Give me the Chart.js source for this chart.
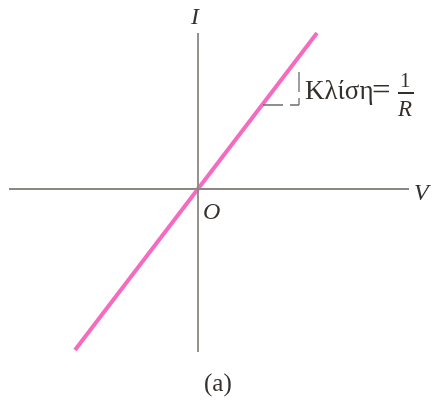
<!DOCTYPE html>
<html>
<head>
<meta charset="utf-8">
<script src="https://cdn.jsdelivr.net/npm/chart.js@4"></script>
<style>
  body { margin: 0; background: #fff; }
  #wrap { position: relative; width: 433px; height: 401px; }
  #ivChart { position: absolute; left: 0; top: 0; }
  .lbl { position: absolute; font-family: "Liberation Serif", "DejaVu Serif", serif; color: #35302c; line-height: 1; white-space: nowrap; }
  .it { font-style: italic; }
</style>
</head>
<body>
<div id="wrap">
  <canvas id="ivChart" width="433" height="401"></canvas>
  <div class="lbl it" style="left:191px; top:4px; font-size:24px;">I</div>
  <div class="lbl it" style="left:414px; top:180px; font-size:24px;">V</div>
  <div class="lbl it" style="left:203px; top:199px; font-size:24px;">O</div>
  <div class="lbl" style="left:305px; top:77px; font-size:27px;">Κλίση</div>
  <div class="lbl" style="left:372px; top:74px; font-size:30px; transform:scaleX(1.1); transform-origin:left;">=</div>
  <div class="lbl" style="left:400px; top:70px; font-size:21px;">1</div>
  <div style="position:absolute; left:398px; top:92px; width:16px; height:1.5px; background:#35302c;"></div>
  <div class="lbl it" style="left:398px; top:97px; font-size:23px;">R</div>
  <div class="lbl" style="left:204px; top:370px; font-size:25px;">(a)</div>
</div>
<script>
// ευθεία I = V / R (χωρίς μονάδες)
const voltage = [-12.3, 11.9];
const current = [-16.1, 15.6];

// άξονες V και I
const vAxis = [-18.9, 21.1];
const iAxis = [-16.3, 15.6];

// αγκύλη κλίσης
const bracketX = [6.5, 10.1];
const bracketY = [8.4, 11.7];

const line = voltage.map((v, i) => ({ x: v, y: current[i] }));

new Chart(document.getElementById('ivChart'), {
  type: 'scatter',
  data: {
    datasets: [
      {
        data: [{ x: vAxis[0], y: 0 }, { x: vAxis[1], y: 0 }],
        showLine: true, borderColor: '#8b8782', borderWidth: 1.8, pointRadius: 0
      },
      {
        data: [{ x: 0, y: iAxis[0] }, { x: 0, y: iAxis[1] }],
        showLine: true, borderColor: '#8b8782', borderWidth: 1.8, pointRadius: 0
      },
      {
        data: [{ x: bracketX[0], y: bracketY[0] }, { x: bracketX[1], y: bracketY[0] }],
        showLine: true, borderColor: '#6f6a66', borderWidth: 1.3, pointRadius: 0,
        borderDash: [20, 7]
      },
      {
        data: [{ x: bracketX[1], y: bracketY[0] }, { x: bracketX[1], y: bracketY[1] }],
        showLine: true, borderColor: '#6f6a66', borderWidth: 1.3, pointRadius: 0,
        borderDash: [7, 6, 22, 100]
      },
      {
        data: line,
        showLine: true, borderColor: '#f46bbf', borderWidth: 4, pointRadius: 0
      }
    ]
  },
  options: {
    responsive: false,
    animation: false,
    layout: { padding: 0 },
    plugins: { legend: { display: false }, tooltip: { enabled: false } },
    scales: {
      x: { type: 'linear', min: -19.8, max: 23.5, display: false },
      y: { type: 'linear', min: -21.2, max: 18.9, display: false }
    }
  }
});
</script>
</body>
</html>
